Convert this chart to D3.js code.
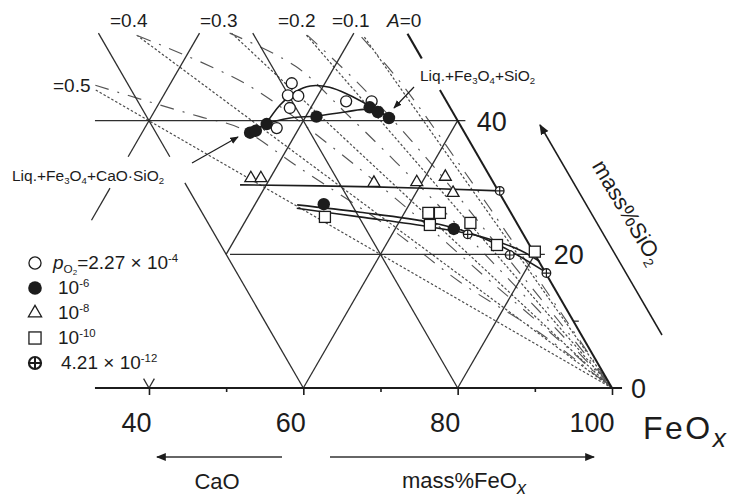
<!DOCTYPE html>
<html><head><meta charset="utf-8">
<script src="https://cdn.jsdelivr.net/npm/d3@7"></script>
<style>
body{margin:0;background:#fff;}
svg{display:block;font-family:"Liberation Sans",Arial,sans-serif;}
</style></head><body>
<svg id="c" width="734" height="498"></svg>
<script>
// ---- data: points are [mass% SiO2, mass% FeOx] ----
const openCircles  = [[45.6,35.7],[43.8,36.1],[43.7,37.5],[41.9,37.3],[38.9,37.1],[42.9,44.1],[42.9,47.4]];
const solidCircles = [[38.2,34.0],[38.5,34.6],[39.5,35.5],[40.6,41.4],[42.0,47.6],[41.3,49.0],[40.4,50.9],[27.5,48.9],[23.8,67.6]];
const triangles    = [[31.4,37.5],[31.4,38.8],[30.7,53.8],[30.8,59.3],[31.6,62.6],[29.2,64.8]];
const squares      = [[25.6,50.0],[26.2,63.1],[26.2,64.6],[24.4,64.2],[24.7,69.3],[21.4,74.4],[20.4,79.8]];
const crossCircles = [[29.5,70.7],[23.0,69.8],[19.9,76.8],[17.2,82.9]];

const archCurve  = [[39.4,35.4],[42.3,35.8],[44.3,36.8],[45.2,38.3],[45.0,40.9],[43.8,44.1],[42.2,47.5],[40.6,50.7]];
const solidCurve = [[37.7,33.6],[39.5,35.5],[40.4,38.1],[40.7,41.3],[41.3,44.8],[41.7,47.8],[40.4,51.0]];
const triCurve   = [[30.4,36.6],[30.1,54.1],[29.5,70.7]];
const lowCurve1  = [[27.4,45.5],[26.3,54.2],[24.8,64.0],[23.2,70.0],[20.9,75.7],[17.2,83.0]];
const lowCurve2  = [[26.9,45.7],[25.6,54.5],[24.1,64.4],[22.6,71.9],[20.6,77.8],[18.9,81.2]];

// iso-A lines (CaO/(CaO+SiO2) = A) from the FeOx corner
const aValues  = [0.5, 0.4, 0.3, 0.2, 0.1];
const aTopSiO2 = [44.6, 52.8, 53.1, 52.8, 52.5];
const aLabels  = ["=0.5", "=0.4", "=0.3", "=0.2", "=0.1"];
// dash-dot iso-A curves
const dashDot05 = [[45.3,10.4],[42.8,18.7],[40.6,26.3],[38.9,32.3],[32.9,43.1],[23.9,59.3],[15.9,72.3],[8.2,86.6],[0,100]];
const dashDot04 = [[52.7,12.2],[45.4,30],[36.5,45],[26.9,60],[16.8,75],[8.2,88],[0,100]];
const dashDot03 = [[53.1,23.9],[48.1,35],[41.1,45],[30.2,60],[18.9,75],[9.1,88],[0,100]];
const dashDot02 = [[52.8,34.1],[45.1,45],[33.4,60],[20.9,75],[10.1,88],[0,100]];
const dashDot01 = [[52.5,41.3],[45.5,50],[32.1,65],[18.4,80],[9.2,90],[0,100]];
const dashDot00 = [[53.0,47.0],[49.3,50.7]];

// ternary grid segments
const gridSegments = [
  [[40,13],[40,61]], [[20,40.5],[20,81.3]],
  [[53.1,26.9],[0,80]],
  [[0,60],[30.7,29.3]], [[34.6,25.4],[53.1,6.9]],
  [[0,80],[20,80]], [[0,60],[40,60]], [[20,40],[53.1,40]],
  [[25.1,20],[29.9,20]], [[34.6,20],[53.1,20]],
  [[0,40],[1.4,38.6]], [[0,40],[1.4,40]], [[10,90],[10,90.7]]
];
const frameSegments = [[[0,100],[44.6,55.4]], [[0,33],[0,101.3]]];

const bottomTicks = [40,50,60,70,80,90,100];
const bottomLabels = [40,60,80,100];
const rightLabels = [40,20,0];

// ---- drawing ----
const svg = d3.select("#c");
const xS = d3.scaleLinear().domain([0,100]).range([612-771.7, 612]);
const yS = d3.scaleLinear().domain([0,100]).range([388, 388-668.3]);
const P = d => [xS(d[1] + d[0]/2), yS(d[0])];
const lin = d3.line().x(d=>P(d)[0]).y(d=>P(d)[1]);
const crv = d3.line().x(d=>P(d)[0]).y(d=>P(d)[1]).curve(d3.curveCatmullRom.alpha(0.5));
const INK = "#1c1c1c";

const defs = svg.append("defs");
defs.append("marker").attr("id","ah").attr("viewBox","0 0 10 10").attr("refX",9).attr("refY",5)
  .attr("markerWidth",7).attr("markerHeight",7).attr("orient","auto-start-reverse")
  .append("path").attr("d","M0,1 L10,5 L0,9 z").attr("fill",INK);

// iso-A dotted lines
const gA = svg.append("g").attr("fill","none").attr("stroke","#4a4a4a").attr("stroke-width",1.2).attr("stroke-dasharray","2.5,2");
aValues.forEach((a,i)=>{
  const s = aTopSiO2[i];
  gA.append("path").attr("d", lin([[s, 100 - s/(1-a)],[0,100]]));
});
// dash-dot curves
const gD = svg.append("g").attr("fill","none").attr("stroke","#555").attr("stroke-width",1.15).attr("stroke-dasharray","14,9,2,9");
[dashDot05,dashDot04,dashDot03,dashDot02,dashDot01].forEach(c=>gD.append("path").attr("d",crv(c)));
svg.append("path").attr("d",lin(dashDot00)).attr("stroke",INK).attr("stroke-width",2.2).attr("fill","none");

// grid
const gG = svg.append("g").attr("fill","none").attr("stroke","#2e2e2e").attr("stroke-width",1.3);
gridSegments.forEach(s=>gG.append("path").attr("d",lin(s)));
frameSegments.forEach(s=>svg.append("path").attr("d",lin(s)).attr("fill","none").attr("stroke",INK).attr("stroke-width",2));

// bottom axis ticks + labels
const ax = svg.append("g").attr("transform","translate(0,388)")
  .call(d3.axisBottom(xS).tickValues(bottomTicks).tickSize(6)
    .tickFormat(d=>bottomLabels.includes(d)?String(d):""));
ax.select(".domain").remove();
ax.selectAll(".tick line").attr("stroke",INK).attr("stroke-width",1.6).attr("y2",d=>bottomLabels.includes(d)?7:4);
ax.selectAll(".tick text").attr("y",44).attr("dy",0).attr("x",2).attr("text-anchor","end")
  .attr("font-size",27).attr("font-family","Liberation Sans, Arial, sans-serif").attr("fill",INK);

// right labels
rightLabels.forEach(v=>{
  const p = P([v,100-v]);
  svg.append("text").attr("x",p[0]+19).attr("y",p[1]+10).attr("font-size",27).attr("fill",INK).text(v);
});

// data curves
const gC = svg.append("g").attr("fill","none").attr("stroke",INK).attr("stroke-width",1.6);
[archCurve,solidCurve,triCurve,lowCurve1,lowCurve2].forEach(c=>gC.append("path").attr("d",crv(c)));

// symbols
function sym(g,type,x,y,k,heavy){
  if(type==="open") g.append("circle").attr("cx",x).attr("cy",y).attr("r",5.5*k).attr("fill","#fff").attr("stroke",INK).attr("stroke-width",1.3);
  else if(type==="solid") g.append("circle").attr("cx",x).attr("cy",y).attr("r",6.2*k).attr("fill",INK);
  else if(type==="tri") g.append("path").attr("transform",`translate(${x},${y})`)
      .attr("d",d3.symbol(d3.symbolTriangle).size(62*k*k)()).attr("fill","#fff").attr("stroke",INK).attr("stroke-width",1.3);
  else if(type==="square") g.append("rect").attr("x",x-5.5*k).attr("y",y-5.5*k).attr("width",11*k).attr("height",11*k)
      .attr("fill","#fff").attr("stroke",INK).attr("stroke-width",1.3);
  else if(type==="cross"){
    const r=4.3*k, w=heavy?2.2:1.3;
    g.append("circle").attr("cx",x).attr("cy",y).attr("r",r).attr("fill","#fff").attr("stroke",INK).attr("stroke-width",w);
    g.append("path").attr("d",`M${x-r},${y}H${x+r}M${x},${y-r}V${y+r}`).attr("stroke",INK).attr("stroke-width",heavy?2:1.2);
  }
}
const gM = svg.append("g");
openCircles.forEach(d=>{const p=P(d); sym(gM,"open",p[0],p[1],1);});
triangles.forEach(d=>{const p=P(d); sym(gM,"tri",p[0],p[1],1);});
squares.forEach(d=>{const p=P(d); sym(gM,"square",p[0],p[1],1);});
crossCircles.forEach(d=>{const p=P(d); sym(gM,"cross",p[0],p[1],1);});
solidCircles.forEach(d=>{const p=P(d); sym(gM,"solid",p[0],p[1],1);});

// rich text helper
function rich(x,y,parts,fs,opts={}){
  const t = svg.append("text").attr("x",x).attr("y",y).attr("font-size",fs).attr("fill",INK);
  if(opts.anchor) t.attr("text-anchor",opts.anchor);
  if(opts.transform) t.attr("transform",opts.transform);
  let cur=0;
  parts.forEach(([txt,type,ls])=>{
    let off=0,size=fs,style=null;
    if(type==="sub"){off=fs*0.22;size=fs*0.62;}
    else if(type==="sub2"){off=fs*0.3;size=fs*0.42;}
    else if(type==="sup"){off=-fs*0.38;size=fs*0.6;}
    else if(type==="i"){style="italic";}
    else if(type==="isub"){off=fs*0.25;size=fs*0.82;style="italic";}
    const ts=t.append("tspan").attr("dy",off-cur).attr("font-size",size).text(txt);
    if(style) ts.attr("font-style",style);
    if(ls) ts.attr("letter-spacing",ls);
    cur=off;
  });
  return t;
}

// A labels
const aLabelPos = [[53,92],[110,27],[200,27],[278,27],[332,27]];
aLabels.forEach((t,i)=>svg.append("text").attr("x",aLabelPos[i][0]).attr("y",aLabelPos[i][1]).attr("font-size",19).attr("fill",INK).text(t));
rich(387,27,[["A","i"],["=0","n"]],19);

// phase labels + arrows
rich(12,181,[["Liq.+Fe","n"],["3","sub"],["O","n"],["4","sub"],["+CaO·SiO","n"],["2","sub"]],15.5);
rich(420,81,[["Liq.+Fe","n"],["3","sub"],["O","n"],["4","sub"],["+SiO","n"],["2","sub"]],15.5);
svg.append("line").attr("x1",192).attr("y1",163).attr("x2",238).attr("y2",137).attr("stroke",INK).attr("stroke-width",1.2).attr("marker-end","url(#ah)");
svg.append("line").attr("x1",414).attr("y1",87).attr("x2",394).attr("y2",108).attr("stroke",INK).attr("stroke-width",1.2).attr("marker-end","url(#ah)");

// axis titles
rich(643,439,[["FeO","n","2.5px"],["x","isub"]],32);
svg.append("line").attr("x1",282).attr("y1",457).attr("x2",157).attr("y2",457).attr("stroke","#333").attr("stroke-width",1.4).attr("marker-end","url(#ah)");
svg.append("line").attr("x1",330).attr("y1",457).attr("x2",594).attr("y2",457).attr("stroke","#333").attr("stroke-width",1.4).attr("marker-end","url(#ah)");
svg.append("text").attr("x",217).attr("y",489).attr("text-anchor","middle").attr("font-size",22).attr("fill",INK).text("CaO");
rich(402,488,[["mass%FeO","n"],["x","isub"]],22);
svg.append("line").attr("x1",662).attr("y1",335).attr("x2",540).attr("y2",125).attr("stroke",INK).attr("stroke-width",1.5).attr("marker-end","url(#ah)");
rich(0,0,[["mass%SiO","n"],["2","sub"]],22,{anchor:"middle",transform:"translate(621,216) rotate(59.5)"});

// legend
const legendTypes = ["open","solid","tri","square","cross"];
const legendRowsY = [263,288,313,338,363];
const legendTexts = [
  [["p","i"],["O","sub"],["2","sub2"],["=2.27 × 10","n"],["-4","sup"]],
  [["10","n"],["-6","sup"]],
  [["10","n"],["-8","sup"]],
  [["10","n"],["-10","sup"]],
  [["4.21 × 10","n"],["-12","sup"]]
];
const gL = svg.append("g");
legendTypes.forEach((t,i)=>{
  sym(gL,t,35,legendRowsY[i],t==="cross"?1.4:1.1,true);
  rich(i===0?53:(i===4?61:58), legendRowsY[i]+6, legendTexts[i], 19);
});
</script>
</body></html>
